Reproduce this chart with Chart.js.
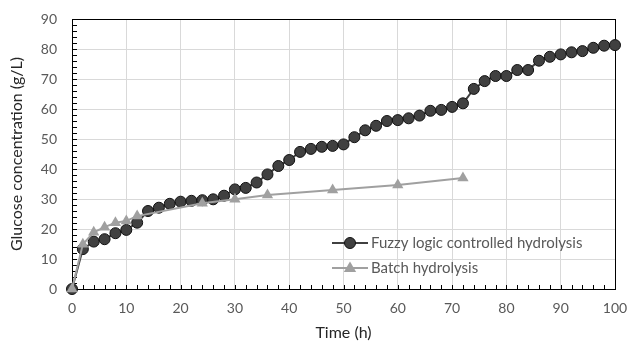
<!DOCTYPE html>
<html>
<head>
<meta charset="utf-8">
<script src="https://cdn.jsdelivr.net/npm/chart.js@4.4.0/dist/chart.umd.min.js"></script>
<style>
    html, body { margin: 0; padding: 0; background: #fff; }
    #wrap { width: 628px; height: 346px; }
</style>
</head>
<body>
<div id="wrap"><canvas id="chart" width="628" height="346"></canvas></div>
<script>
// time (h) and glucose (g/L)
let fuzzyTime = [0, 2, 4, 6, 8, 10, 12, 14, 16, 18, 20, 22, 24, 26, 28, 30, 32, 34, 36, 38, 40,
    42, 44, 46, 48, 50, 52, 54, 56, 58, 60, 62, 64, 66, 68, 70, 72, 74, 76, 78, 80,
    82, 84, 86, 88, 90, 92, 94, 96, 98, 100];
let fuzzyGlucose = [0, 13.3, 15.8, 16.6, 18.6, 19.7, 22.1, 26.0, 27.1, 28.4, 29.1, 29.4, 29.6, 29.9, 31.1, 33.2, 33.7, 35.5, 38.2, 41.0, 43.0,
    45.7, 46.7, 47.4, 47.7, 48.2, 50.6, 52.9, 54.4, 56.0, 56.3, 56.9, 57.8, 59.4, 59.7, 60.7, 61.9, 66.7, 69.3, 71.0, 71.0,
    73.0, 73.0, 76.1, 77.4, 78.2, 78.9, 79.3, 80.4, 81.1, 81.3];

let batchTime = [0, 2, 4, 6, 8, 10, 12, 24, 30, 36, 48, 60, 72];
let batchGlucose = [0, 14.9, 18.9, 20.6, 22.1, 22.7, 24.3, 28.6, 29.9, 31.3, 33.0, 34.7, 37.0];

let xTicks = [0, 10, 20, 30, 40, 50, 60, 70, 80, 90, 100];
let yTicks = [0, 10, 20, 30, 40, 50, 60, 70, 80, 90];

let labelFuzzy = 'Fuzzy logic controlled hydrolysis';
let labelBatch = 'Batch hydrolysis';

const FONT = 'Lato, "Open Sans", sans-serif';

function toPoints(xs, ys) {
    return xs.map((x, i) => ({ x: x, y: ys[i] }));
}

// inward minor/major ticks and the frame, like the spreadsheet chart
const frameTicks = {
    id: 'frameTicks',
    beforeDatasetsDraw(chart) {
        const ctx = chart.ctx, a = chart.chartArea;
        const xs = chart.scales.x, ys = chart.scales.y;
        ctx.save();
        ctx.strokeStyle = '#000';
        ctx.lineWidth = 1;
        ctx.beginPath();
        for (let v = 0; v <= 100; v += 2) {
            let px = Math.round(xs.getPixelForValue(v)) + 0.5;
            ctx.moveTo(px, a.bottom);
            ctx.lineTo(px, a.bottom - 4);
        }
        for (let v = 0; v <= 90; v += 2) {
            let py = Math.round(ys.getPixelForValue(v)) + 0.5;
            ctx.moveTo(a.left, py);
            ctx.lineTo(a.left + 5, py);
        }
        ctx.stroke();
        ctx.strokeRect(Math.round(a.left) + 0.5, Math.round(a.top) + 0.5,
            Math.round(a.right - a.left), Math.round(a.bottom - a.top));
        ctx.restore();
    }
};

// legend with line + marker, placed inside the plot
const innerLegend = {
    id: 'innerLegend',
    afterDraw(chart) {
        const ctx = chart.ctx;
        const rows = [[0, 243], [1, 268]];
        ctx.save();
        rows.forEach(r => {
            let ds = chart.data.datasets[r[0]], y = r[1];
            ctx.strokeStyle = ds.borderColor;
            ctx.lineWidth = ds.borderWidth;
            ctx.beginPath();
            ctx.moveTo(332, y);
            ctx.lineTo(368, y);
            ctx.stroke();
            ctx.fillStyle = ds.pointBackgroundColor;
            ctx.strokeStyle = ds.pointBorderColor;
            ctx.lineWidth = ds.pointBorderWidth;
            ctx.beginPath();
            if (ds.pointStyle === 'circle') {
                ctx.arc(350, y, ds.pointRadius, 0, Math.PI * 2);
            } else {
                let r2 = ds.pointRadius;
                ctx.moveTo(350, y - r2);
                ctx.lineTo(350 + r2 * 0.95, y + r2 * 0.6);
                ctx.lineTo(350 - r2 * 0.95, y + r2 * 0.6);
                ctx.closePath();
            }
            ctx.fill();
            if (ds.pointBorderWidth) ctx.stroke();
            ctx.fillStyle = '#595959';
            ctx.font = '15px ' + FONT;
            ctx.textBaseline = 'middle';
            ctx.textAlign = 'left';
            ctx.fillText(ds.label, 371, y);
        });
        ctx.restore();
    }
};

let ctx = document.getElementById('chart').getContext('2d');
var myChart = new Chart(ctx, {
    type: 'line',
    data: {
        datasets: [{
            label: labelFuzzy,
            data: toPoints(fuzzyTime, fuzzyGlucose),
            borderColor: '#404040',
            borderWidth: 2,
            pointStyle: 'circle',
            pointRadius: 5.5,
            pointBackgroundColor: '#404040',
            pointBorderColor: '#111',
            pointBorderWidth: 1,
            tension: 0,
            clip: 12,
            order: 1
        }, {
            label: labelBatch,
            data: toPoints(batchTime, batchGlucose),
            borderColor: '#a0a0a0',
            borderWidth: 2,
            pointStyle: 'triangle',
            pointRadius: 6.5,
            pointBackgroundColor: '#a0a0a0',
            pointBorderColor: '#a0a0a0',
            pointBorderWidth: 0,
            tension: 0,
            clip: 12,
            order: 0
        }]
    },
    options: {
        responsive: false,
        animation: false,
        layout: { padding: { top: 19, right: 13, left: 0, bottom: 0 } },
        plugins: {
            legend: { display: false },
            tooltip: { enabled: false }
        },
        scales: {
            x: {
                type: 'linear',
                min: 0, max: 100,
                afterFit: s => { s.height = 57; s.paddingLeft = 0; s.paddingRight = 0; },
                afterBuildTicks: s => { s.ticks = xTicks.map(v => ({ value: v })); },
                grid: { color: '#d9d9d9', drawTicks: false },
                border: { display: false },
                ticks: { color: '#595959', font: { family: FONT, size: 14 }, padding: 11, maxRotation: 0 },
                title: { display: true, text: 'Time (h)', color: '#262626', font: { family: FONT, size: 16 }, padding: { top: 3 } }
            },
            y: {
                min: 0, max: 90,
                afterFit: s => { s.width = 72; s.paddingTop = 0; s.paddingBottom = 0; },
                afterBuildTicks: s => { s.ticks = yTicks.map(v => ({ value: v })); },
                grid: { color: '#d9d9d9', drawTicks: false },
                border: { display: false },
                ticks: { color: '#595959', font: { family: FONT, size: 14 }, padding: 15 },
                title: { display: true, text: 'Glucose concentration (g/L)', color: '#262626', font: { family: FONT, size: 16 }, padding: { top: 7, bottom: 0 } }
            }
        }
    },
    plugins: [frameTicks, innerLegend]
});
</script>
</body>
</html>
